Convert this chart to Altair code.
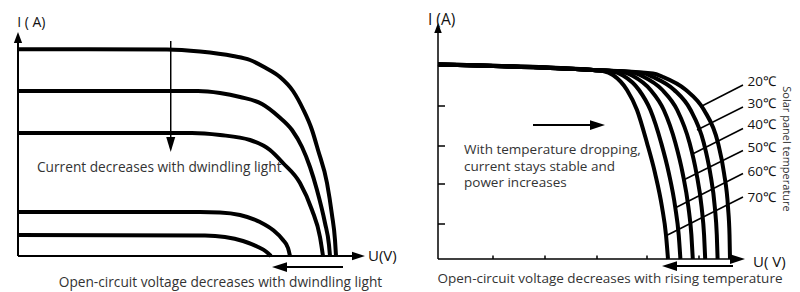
import altair as alt
import pandas as pd

FONT = "Open Sans"
TXT = "#333333"

# ---------------- Left panel: I-U curves at decreasing light ----------------
light_u_1 = [0, 18.625, 22.75, 26.875, 29.0, 30.875, 32.75, 34.375, 35.625, 36.75, 37.5, 38.625, 39.25, 39.625, 39.75]
light_i_1 = [10.335, 10.325, 10.225, 10.0, 9.8, 9.425, 8.95, 8.25, 7.35, 6.3, 5.3, 3.65, 2.05, 0.8, 0]
light_u_2 = [0, 22.5, 25.25, 27.75, 30.5, 32.5, 34.25, 35.5, 36.5, 37.375, 38.375, 38.875, 39.0]
light_i_2 = [8.25, 8.25, 8.15, 7.95, 7.6, 7.0, 6.3, 5.45, 4.45, 3.3, 1.65, 0.55, 0]
light_u_3 = [0, 21.75, 25.25, 29.0, 31.5, 33.125, 35.25, 36.75, 37.75, 38.125]
light_i_3 = [6.15, 6.15, 6.05, 5.8, 5.3, 4.65, 3.65, 2.3, 0.95, 0]
light_u_4 = [0, 22.75, 25.25, 27.75, 30.25, 31.875, 33.125, 33.75, 34.0]
light_i_4 = [2.2, 2.2, 2.18, 2.05, 1.7, 1.3, 0.8, 0.4, 0]
light_u_5 = [0, 23.375, 25.875, 28.125, 30.0, 31.0, 31.625]
light_i_5 = [1.05, 1.025, 0.95, 0.75, 0.45, 0.225, 0]

# ---------------- Right panel: I-U curves at panel temperatures ----------------
temp_labels = ["20℃", "30℃", "40℃", "50℃", "60℃", "70℃"]
common_u = [0, 19.375]
common_i = [9.725, 9.45]
temp_u_20 = [26.875, 28.125, 31.0, 33.25, 35.0, 35.75, 36.25, 36.44, 36.5]
temp_i_20 = [9.275, 9.1, 8.45, 7.45, 5.8, 4.3, 2.6, 1.2, 0]
temp_u_30 = [25.625, 26.875, 29.525, 31.575, 33.225, 34.025, 34.6, 34.85, 34.95]
temp_i_30 = [9.3, 9.1, 8.45, 7.45, 5.8, 4.3, 2.6, 1.2, 0]
temp_u_40 = [24.375, 25.625, 28.05, 29.9, 31.45, 32.3, 32.95, 33.26, 33.4]
temp_i_40 = [9.325, 9.125, 8.45, 7.45, 5.8, 4.3, 2.6, 1.2, 0]
temp_u_50 = [23.125, 24.375, 26.575, 28.225, 29.675, 30.575, 31.3, 31.675, 31.85]
temp_i_50 = [9.35, 9.15, 8.45, 7.45, 5.8, 4.3, 2.6, 1.2, 0]
temp_u_60 = [21.875, 23.125, 25.125, 26.55, 27.9, 28.85, 29.65, 30.09, 30.3]
temp_i_60 = [9.375, 9.175, 8.45, 7.45, 5.8, 4.3, 2.6, 1.2, 0]
temp_u_70 = [20.625, 21.875, 23.625, 24.875, 26.125, 27.125, 28.0, 28.5, 28.75]
temp_i_70 = [9.4, 9.2, 8.45, 7.45, 5.8, 4.3, 2.6, 1.2, 0]

# leader lines from labels to curves
leader_u_start = [38.125] * 6
leader_i_start = [8.7, 7.6, 6.525, 5.425, 4.275, 3.1]
leader_u_end = [32.75, 32.375, 31.8125, 30.6875, 29.625, 28.4375]
leader_i_end = [7.6, 6.45, 5.25, 3.95, 2.55, 1.15]
label_u = 38.7
label_i = [8.85, 7.775, 6.7, 5.55, 4.35, 3.05]

right_ytick_i = [7.65, 5.65, 3.75, 1.75]
right_xtick_u = [6.875, 13.375, 19.875, 26.125, 32.625]

LEFT_X = [-1.25, 47.75]
LEFT_Y = [-1.8, 12.4]
RIGHT_X = [-4.75, 44.25]
RIGHT_Y = [-1.65, 12.55]

UP = "M0,-1L0.75,1L-0.75,1Z"
DOWN = "M0,1L-0.6,-1L0.6,-1Z"
RIGHT = "M1,0L-1,-0.65L-1,0.65Z"
LEFT = "M-1,0L1,-0.65L1,0.65Z"


def X(field, dom):
    return alt.X(f"{field}:Q", scale=alt.Scale(domain=dom, nice=False, zero=False), axis=None)


def Y(field, dom):
    return alt.Y(f"{field}:Q", scale=alt.Scale(domain=dom, nice=False, zero=False), axis=None)


def curves_df(pairs):
    rows = []
    for name, us, is_ in pairs:
        for k, (u, i) in enumerate(zip(us, is_)):
            rows.append({"curve": name, "idx": k, "u": u, "i": i})
    return pd.DataFrame(rows)


def curve_layer(df, dom_x, dom_y, width):
    return alt.Chart(df).mark_line(color="black", strokeWidth=width, interpolate="monotone").encode(
        x=X("u", dom_x), y=Y("i", dom_y), detail="curve:N", order="idx:Q")


def rule_layer(rows, dom_x, dom_y, width):
    return alt.Chart(pd.DataFrame(rows)).mark_rule(color="black", strokeWidth=width).encode(
        x=X("u", dom_x), x2="u2", y=Y("i", dom_y), y2="i2")


def heads_layer(rows, dom_x, dom_y):
    return alt.Chart(pd.DataFrame(rows)).mark_point(filled=True, opacity=1, color="black", strokeWidth=0).encode(
        x=X("u", dom_x), y=Y("i", dom_y),
        shape=alt.Shape("shape:N", scale=None), size=alt.Size("size:Q", scale=None))


def text_layer(rows, dom_x, dom_y, size, align="left", color=TXT, angle=0):
    kw = dict(align=align, baseline="middle", font=FONT, fontSize=size, color=color)
    if angle:
        kw["angle"] = angle
    return alt.Chart(pd.DataFrame(rows)).mark_text(**kw).encode(
        x=X("u", dom_x), y=Y("i", dom_y), text="t:N")


# ---------------- build left ----------------
left_df = curves_df([
    ("c1", light_u_1, light_i_1), ("c2", light_u_2, light_i_2), ("c3", light_u_3, light_i_3),
    ("c4", light_u_4, light_i_4), ("c5", light_u_5, light_i_5)])

left = alt.layer(
    rule_layer([
        {"u": 0, "u2": 0, "i": 0, "i2": 10.65},
        {"u": 0, "u2": 41.75, "i": 0, "i2": 0},
        {"u": 33.0, "u2": 40.625, "i": -0.55, "i2": -0.55},
    ], LEFT_X, LEFT_Y, 2),
    rule_layer([{"u": 19.09, "u2": 19.09, "i": 10.75, "i2": 5.8}], LEFT_X, LEFT_Y, 1.5),
    heads_layer([
        {"u": 0, "i": 10.925, "shape": UP, "size": 121},
        {"u": 42.56, "i": 0, "shape": RIGHT, "size": 169},
        {"u": 19.09, "i": 5.575, "shape": DOWN, "size": 225},
        {"u": 32.69, "i": -0.55, "shape": LEFT, "size": 225},
    ], LEFT_X, LEFT_Y),
    curve_layer(left_df, LEFT_X, LEFT_Y, 4),
    text_layer([{"u": -0.1, "i": 11.65, "t": "I ( A)"}], LEFT_X, LEFT_Y, 14, color="#111111"),
    text_layer([{"u": 43.75, "i": 0, "t": "U(V)"}], LEFT_X, LEFT_Y, 15, color="#111111"),
    text_layer([{"u": 2.375, "i": 4.4, "t": "Current decreases with dwindling light"}], LEFT_X, LEFT_Y, 13.7),
    text_layer([{"u": 25.31, "i": -1.35, "t": "Open-circuit voltage decreases with dwindling light"}], LEFT_X, LEFT_Y, 13.7, align="center"),
).properties(width=392, height=284)

# ---------------- build right ----------------
pairs = []
for name, us, is_ in [("20", temp_u_20, temp_i_20), ("30", temp_u_30, temp_i_30), ("40", temp_u_40, temp_i_40),
                      ("50", temp_u_50, temp_i_50), ("60", temp_u_60, temp_i_60), ("70", temp_u_70, temp_i_70)]:
    pairs.append((name, common_u + us, common_i + is_))
right_df = curves_df(pairs)

leaders = [{"u": a, "u2": b, "i": c, "i2": d} for a, b, c, d in zip(leader_u_start, leader_u_end, leader_i_start, leader_i_end)]
yticks = [{"u": 0, "u2": 0.875, "i": v, "i2": v} for v in right_ytick_i]
xticks = [{"u": v, "u2": v, "i": 0, "i2": 0.175} for v in right_xtick_u]

right = alt.layer(
    rule_layer([
        {"u": 0, "u2": 0, "i": 0, "i2": 11.3},
        {"u": 0, "u2": 36.6, "i": 0, "i2": 0},
    ] + yticks + xticks, RIGHT_X, RIGHT_Y, 1.5),
    rule_layer([
        {"u": 11.875, "u2": 19.2, "i": 6.7, "i2": 6.7},
        {"u": 29.5, "u2": 36.875, "i": -0.35, "i2": -0.35},
    ], RIGHT_X, RIGHT_Y, 2),
    rule_layer(leaders, RIGHT_X, RIGHT_Y, 1.5),
    heads_layer([
        {"u": 0, "i": 11.55, "shape": UP, "size": 100},
        {"u": 37.44, "i": 0, "shape": RIGHT, "size": 225},
        {"u": 19.94, "i": 6.7, "shape": RIGHT, "size": 225},
        {"u": 28.94, "i": -0.35, "shape": LEFT, "size": 225},
    ], RIGHT_X, RIGHT_Y),
    curve_layer(right_df, RIGHT_X, RIGHT_Y, 4),
    text_layer([{"u": -1.25, "i": 11.95, "t": "I (A)"}], RIGHT_X, RIGHT_Y, 15.5, color="#111111"),
    text_layer([{"u": 39.375, "i": -0.15, "t": "U( V)"}], RIGHT_X, RIGHT_Y, 15, color="#111111"),
    text_layer([{"u": label_u, "i": v, "t": t} for v, t in zip(label_i, temp_labels)], RIGHT_X, RIGHT_Y, 13.5, color="#111111"),
    text_layer([{"u": 43.44, "i": 5.5, "t": "Solar panel temperature"}], RIGHT_X, RIGHT_Y, 11, align="center", angle=90),
    text_layer([
        {"u": 3.25, "i": 5.45, "t": "With temperature dropping,"},
        {"u": 3.25, "i": 4.625, "t": "current stays stable and"},
        {"u": 3.25, "i": 3.8, "t": "power increases"},
    ], RIGHT_X, RIGHT_Y, 13.5),
    text_layer([{"u": 21.5, "i": -1.0, "t": "Open-circuit voltage decreases with rising temperature"}], RIGHT_X, RIGHT_Y, 13.5, align="center"),
).properties(width=392, height=284)

chart = alt.hconcat(left, right, spacing=0, bounds="flush", padding=0).configure_view(stroke=None)

chart.save("out.html", embed_options={"renderer": "svg", "actions": False})
